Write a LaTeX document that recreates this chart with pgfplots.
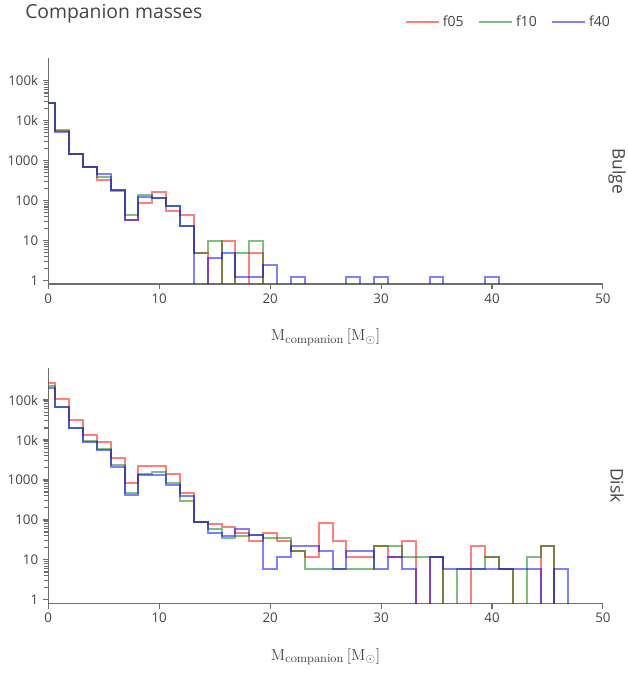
\documentclass[border=0pt]{standalone}
\usepackage[no-math]{fontspec}
\setmainfont{Open Sans}
\usepackage{pgfplots}
\usepackage{pgfplotstable}
\pgfplotsset{compat=1.18}

\definecolor{txt}{HTML}{444444}
\definecolor{axln}{HTML}{6E6E6E}
\definecolor{c05}{rgb}{1,0,0}
\definecolor{c10}{rgb}{0,0.5,0}
\definecolor{c40}{rgb}{0,0,1}

% Binned companion masses (bin width 1.25 Msun, bins centred on x).
% Empty bins are stored as 0.01 so the step drops below the axis floor.
\pgfplotstableread{
x     f05    f10    f40
0     28000  28000  28000
1.25  6000   5500   5400
2.5   1520   1520   1520
3.75  710    710    710
5     340    385    480
6.25  175    185    185
7.5   34     44     34
8.75  89     141    121
10    165    117    117
11.25 56     75     75
12.5  44     23     23
13.75 5      5      0.01
15    0.01   10     3.66
16.25 10     0.01   4.88
17.5  0.01   5      1.22
18.75 5      10     1.22
20    0.01   0.01   2.44
21.25 0.01   0.01   0.01
22.5  0.01   0.01   1.22
23.75 0.01   0.01   0.01
25    0.01   0.01   0.01
26.25 0.01   0.01   0.01
27.5  0.01   0.01   1.22
28.75 0.01   0.01   0.01
30    0.01   0.01   1.22
31.25 0.01   0.01   0.01
32.5  0.01   0.01   0.01
33.75 0.01   0.01   0.01
35    0.01   0.01   1.22
36.25 0.01   0.01   0.01
37.5  0.01   0.01   0.01
38.75 0.01   0.01   0.01
40    0.01   0.01   1.22
41.25 0.01   0.01   0.01
}\bulge

\pgfplotstableread{
x     f05     f10     f40
0     270000  224000  196000
1.25  106000  68000   66000
2.5   31600   20400   20000
3.75  13300   9400    9000
5     8700    5800    5600
6.25  3600    2400    2150
7.5   830     480     420
8.75  2300    1450    1350
10    2200    1600    1300
11.25 1400    830     750
12.5  480     290     400
13.75 87      87      87
15    80      58      48
16.25 66      35      40
17.5  48      40      58
18.75 30      42      42
20    46      35      5.9
21.25 29      35      11.7
22.5  17      17      22.8
23.75 11.7    5.9     22.8
25    85      5.9     17
26.25 29      5.9     5.9
27.5  11.7    5.9     17
28.75 11.7    5.9     17
30    22.8    22.8    5.9
31.25 11.7    22.8    11.7
32.5  29      11.7    5.9
33.75 0.01    11.7    0.01
35    11.7    11.7    11.7
36.25 0.01    0.01    5.9
37.5  0.01    5.9     5.9
38.75 22.8    5.9     5.9
40    11.7    11.7    5.9
41.25 5.9     5.9     5.9
42.5  0.01    0.01    5.9
43.75 0.01    11.7    5.9
45    22.8    22.8    0.01
46.25 0.01    0.01    5.9
47.5  0.01    0.01    0.01
}\disk

\begin{document}
\begin{tikzpicture}
\useasboundingbox (0pt,0pt) rectangle (470.25pt,504.75pt);
\node[anchor=base west, inner sep=0pt, text=txt, font=\fontsize{14.5}{17}\selectfont]
  at (18.75pt,490.5pt) {Companion masses};

\begin{axis}[
  at={(36.2pt,291.75pt)}, anchor=south west,
  scale only axis, width=416pt, height=169.5pt,
  xmin=0, xmax=50, ymode=log, ymin=0.826, ymax=375800,
  enlargelimits=false,
  axis x line=bottom, axis y line=left,
  axis line style={-, draw=axln, line width=0.8pt},
  tick align=outside, major tick length=4pt,
  tick style={draw=axln, line width=0.8pt},
  minor tick num=0,
  xtick={0,10,20,30,40,50}, xticklabels={0,10,20,30,40,50},
  ytick={1,10,100,1000,10000,100000},
  yticklabels={1,10,100,1000,10k,100k},
  tick label style={font=\fontsize{10}{12}\selectfont, text=txt},
  xlabel={$\mathrm{M}_{\mathrm{companion}}\,[\mathrm{M}_{\odot}]$},
  x label style={at={(axis description cs:0.5,0)}, anchor=base,
    yshift=-42.75pt, font=\fontsize{13}{15}\selectfont, text=txt},
  legend columns=3,
  legend image post style={xscale=1.45},
  legend style={at={(0.6467,1.1606)}, anchor=west, xshift=-4.5pt,
    draw=none, fill=none,
    font=\fontsize{10.5}{12}\selectfont, text=txt,
    /tikz/every even column/.append style={column sep=9pt}},
  ]
\addplot[c05, const plot mark mid, line width=1.5pt, draw opacity=0.5, mark=none]
  table[x=x, y=f05] {\bulge};
\addlegendentry{f05}
\addplot[c10, const plot mark mid, line width=1.5pt, draw opacity=0.5, mark=none]
  table[x=x, y=f10] {\bulge};
\addlegendentry{f10}
\addplot[c40, const plot mark mid, line width=1.5pt, draw opacity=0.5, mark=none]
  table[x=x, y=f40] {\bulge};
\addlegendentry{f40}
\end{axis}

\begin{axis}[
  at={(36.2pt,52.3pt)}, anchor=south west,
  scale only axis, width=416pt, height=176.7pt,
  xmin=0, xmax=50, ymode=log, ymin=0.826, ymax=645000,
  enlargelimits=false,
  axis x line=bottom, axis y line=left,
  axis line style={-, draw=axln, line width=0.8pt},
  tick align=outside, major tick length=4pt,
  tick style={draw=axln, line width=0.8pt},
  minor tick num=0,
  xtick={0,10,20,30,40,50}, xticklabels={0,10,20,30,40,50},
  ytick={1,10,100,1000,10000,100000},
  yticklabels={1,10,100,1000,10k,100k},
  tick label style={font=\fontsize{10}{12}\selectfont, text=txt},
  xlabel={$\mathrm{M}_{\mathrm{companion}}\,[\mathrm{M}_{\odot}]$},
  x label style={at={(axis description cs:0.5,0)}, anchor=base,
    yshift=-42.75pt, font=\fontsize{13}{15}\selectfont, text=txt},
  ]
\addplot[c05, const plot mark mid, line width=1.5pt, draw opacity=0.5, mark=none]
  table[x=x, y=f05] {\disk};
\addplot[c10, const plot mark mid, line width=1.5pt, draw opacity=0.5, mark=none]
  table[x=x, y=f10] {\disk};
\addplot[c40, const plot mark mid, line width=1.5pt, draw opacity=0.5, mark=none]
  table[x=x, y=f40] {\disk};
\end{axis}

% facet labels on the right of each panel
\node[rotate=-90, text=txt, font=\fontsize{13}{15}\selectfont] at (462.75pt,376.5pt) {Bulge};
\node[rotate=-90, text=txt, font=\fontsize{13}{15}\selectfont] at (462.75pt,140.6pt) {Disk};
\end{tikzpicture}
\end{document}
